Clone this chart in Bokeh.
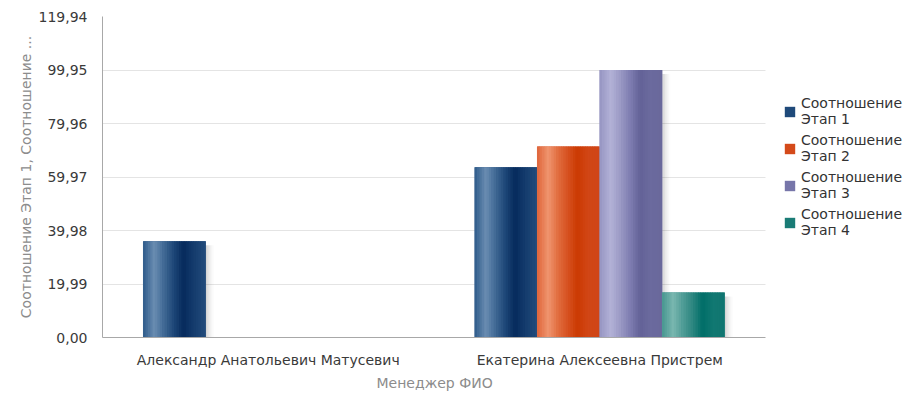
from bokeh.plotting import figure
from bokeh.models import Range1d, FixedTicker, Legend, LegendItem, ColumnDataSource, BoxAnnotation, Title
from bokeh.embed import file_html
from bokeh.resources import INLINE

# ---- data ----
managers = ["Александр Анатольевич Матусевич", "Екатерина Алексеевна Пристрем"]
stage1 = [36.0, 63.6]
stage2 = [0.0, 71.4]
stage3 = [0.0, 99.95]
stage4 = [0.0, 16.8]
series_names = ["Соотношение\nЭтап 1", "Соотношение\nЭтап 2", "Соотношение\nЭтап 3", "Соотношение\nЭтап 4"]
y_ticks = [0.0, 19.99, 39.98, 59.97, 79.96, 99.95, 119.94]
y_tick_labels = ["0,00", "19,99", "39,98", "59,97", "79,96", "99,95", "119,94"]
y_title = "Соотношение Этап 1, Соотношение ..."
x_title = "Менеджер ФИО"

# ---- styles ----
base_colors = ["#1f4a7a", "#d44a1a", "#7776a9", "#1a7c76"]
gradients = [
    [(0.0, "#2e5b8a"), (0.18, "#6a8db2"), (0.35, "#3d6692"), (0.5, "#1c4576"), (0.65, "#062a5c"), (0.82, "#153c6e"), (1.0, "#224c7b")],
    [(0.0, "#de6439"), (0.18, "#f0956f"), (0.35, "#e06a3c"), (0.5, "#d6501f"), (0.65, "#cb3a02"), (0.82, "#d14616"), (1.0, "#cf4517")],
    [(0.0, "#9594c2"), (0.18, "#b3b2d7"), (0.35, "#9897c3"), (0.5, "#7d7cb0"), (0.65, "#636297"), (0.82, "#6b6a9e"), (1.0, "#69689b")],
    [(0.0, "#469690"), (0.18, "#7ab7b0"), (0.35, "#4c9a94"), (0.5, "#2b857f"), (0.65, "#006e68"), (0.82, "#117872"), (1.0, "#107570")],
]
FONT = "DejaVu Sans"
PLOT_W, LEFT, RIGHT_EDGE = 908, 102, 765
n_cat = len(managers)
x_end = n_cat * (PLOT_W - LEFT) / (RIGHT_EDGE - LEFT)   # frame extends to the window edge; categories fill the plot area


def hex2rgb(h):
    h = h.lstrip("#")
    return tuple(int(h[i:i + 2], 16) for i in (0, 2, 4))


def interp(stops, t):
    for (p0, c0), (p1, c1) in zip(stops[:-1], stops[1:]):
        if p0 <= t <= p1:
            f = (t - p0) / (p1 - p0) if p1 > p0 else 0
            a, b = hex2rgb(c0), hex2rgb(c1)
            return "#%02x%02x%02x" % tuple(int(round(a[i] + (b[i] - a[i]) * f)) for i in range(3))
    return stops[-1][1]


p = figure(
    width=PLOT_W, height=394,
    x_range=Range1d(0, x_end),
    y_range=Range1d(0, y_ticks[-1]),
    output_backend="svg", toolbar_location=None,
    min_border_left=LEFT, min_border_right=0, min_border_top=16, min_border_bottom=57,
)
p.outline_line_color = None
p.background_fill_color = "white"
p.border_fill_color = "white"

series = [stage1, stage2, stage3, stage4]
centers = [i + 0.5 for i in range(n_cat)]
bar_w = 0.1885
offsets = [(-1.5 + i) * bar_w for i in range(4)]

# soft shadows on the right of each bar
for vals, off in zip(series, offsets):
    alphas = [0.16, 0.12, 0.085, 0.055, 0.03, 0.012]
    sw = 0.0042
    for k, a in enumerate(alphas):
        xs = [c + off + bar_w / 2 + (k + 0.5) * sw for c in centers]
        src = ColumnDataSource(dict(x=xs, st=[max(v - 1.5, 0) for v in vals]))
        p.vbar(x="x", top="st", width=sw, source=src, fill_color="black", fill_alpha=a, line_color=None)

legend_renderers = []
N = 26
for vals, off, base, stops in zip(series, offsets, base_colors, gradients):
    src = ColumnDataSource(dict(x=[c + off for c in centers], top=vals))
    r = p.vbar(x="x", top="top", width=bar_w, source=src, fill_color=base, line_color=None)
    legend_renderers.append(r)
    step = bar_w / N
    for k in range(N):
        col = interp(stops, (k + 0.5) / N)
        xs = [c + off - bar_w / 2 + (k + 0.5) * step for c in centers]
        w = step * 1.25 if k < N - 1 else step
        s2 = ColumnDataSource(dict(x=xs, top=vals))
        p.vbar(x="x", top="top", width=w, source=s2, fill_color=col, line_color=None)

# hide gridlines right of the plot area (legend area)
p.add_layout(BoxAnnotation(left=n_cat, fill_color="white", fill_alpha=1.0, line_color=None, level="underlay"))

# axes
p.yaxis.ticker = FixedTicker(ticks=y_ticks)
p.yaxis.major_label_overrides = {t: l for t, l in zip(y_ticks, y_tick_labels)}
p.xaxis.ticker = FixedTicker(ticks=centers)
p.xaxis.major_label_overrides = {c: m for c, m in zip(centers, managers)}
p.xaxis.bounds = (0, n_cat)
for ax in (p.xaxis[0], p.yaxis[0]):
    ax.axis_line_color = "#a8a8a8"
    ax.major_tick_line_color = None
    ax.minor_tick_line_color = None
    ax.major_label_text_font = FONT
    ax.major_label_text_font_size = "14px"
    ax.major_label_text_color = "#3a3a3a"
    ax.axis_label_text_font = FONT
    ax.axis_label_text_font_size = "14px"
    ax.axis_label_text_font_style = "normal"
    ax.axis_label_text_color = "#8c8c8c"
p.yaxis.major_label_standoff = 9
p.yaxis.axis_label = y_title
p.yaxis.axis_label_standoff = 2
p.xaxis.major_label_standoff = 8

# x-axis title, centred under the plot area (not under the legend strip)
p.add_layout(Title(text=x_title, align="left", offset=274, standoff=4,
                   text_font=FONT, text_font_size="14px", text_font_style="normal",
                   text_color="#8c8c8c"), "below")

p.xgrid.grid_line_color = None
p.ygrid.grid_line_color = "#e4e4e4"
p.ygrid.ticker = FixedTicker(ticks=y_ticks)

legend = Legend(
    items=[LegendItem(label=n, renderers=[r]) for n, r in zip(series_names, legend_renderers)],
    location=(681, 99),
    label_text_font=FONT, label_text_font_size="14px", label_text_color="#333333",
    glyph_width=13, glyph_height=13, label_standoff=5, spacing=5,
    padding=0, margin=0, border_line_color=None, background_fill_alpha=0,
)
p.add_layout(legend)

open("out.html", "w").write(file_html(p, INLINE))
